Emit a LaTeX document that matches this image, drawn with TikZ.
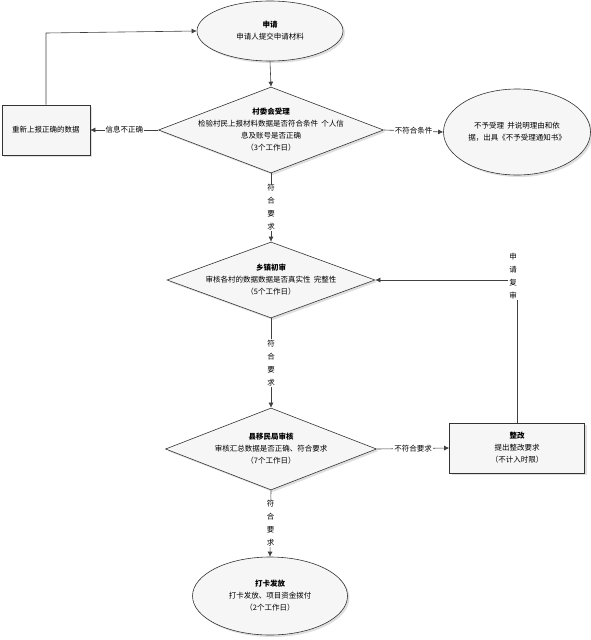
\documentclass[tikz,border=0pt]{standalone}
\usepackage{fontspec}
\newfontfamily\cjk{Noto Sans CJK SC}
\usetikzlibrary{shapes.geometric,arrows.meta,shadows}
\begin{document}
\begin{tikzpicture}[x=1pt,y=-1pt,
  font=\cjk\fontsize{7.5}{12}\selectfont,
  shp/.style={draw=black!80, fill=gray!7, line width=0.6pt, drop shadow={opacity=0.25, shadow xshift=2pt, shadow yshift=-2pt}},
  ell/.style={shp, ellipse, inner sep=0pt},
  box/.style={shp, rectangle, inner sep=0pt},
  dia/.style={shp, diamond, inner sep=0pt},
  txt/.style={align=center, inner sep=0pt},
  conn/.style={draw=black!75, line width=0.6pt, -{Latex[length=5pt,width=5pt]}},
  lbl/.style={fill=white, inner sep=1pt, align=center},
  vlbl/.style={fill=white, inner sep=1pt, align=center, font=\cjk\fontsize{7.5}{13}\selectfont}
]
\useasboundingbox (0,0) rectangle (590,640);

\node[ell, minimum width=146, minimum height=60] (start) at (270,31) {};
\node[txt] (startt) at (start.center) {\textbf{申请}\\申请人提交申请材料};

\node[box, minimum width=88, minimum height=50] (redo) at (46,130) {};
\node[txt] (redot) at (redo.center) {重新上报正确的数据};

\node[dia, minimum width=225, minimum height=86] (d1) at (271,130) {};
\node[txt] (d1t) at (d1.center) {\textbf{村委会受理}\\检验村民上报材料数据是否符合条件\ \ 个人信\\息及账号是否正确\\（3个工作日）};

\node[ell, minimum width=147, minimum height=86] (rej) at (517,132) {};
\node[txt] (rejt) at (rej.center) {不予受理\ \ 并说明理由和依\\据，出具《不予受理通知书》};

\node[dia, minimum width=208, minimum height=76] (d2) at (271,280) {};
\node[txt] (d2t) at (d2.center) {\textbf{乡镇初审}\\审核各村的数据数据是否真实性\ \ 完整性\\（5个工作日）};

\node[dia, minimum width=211, minimum height=82] (d3) at (271,449) {};
\node[txt] (d3t) at (d3.center) {\textbf{县移民局审核}\\审核汇总数据是否正确、符合要求\\（7个工作日）};

\node[box, minimum width=135, minimum height=50] (fix) at (517,448) {};
\node[txt] (fixt) at (fix.center) {\textbf{整改}\\提出整改要求\\（不计入时限）};

\node[ell, minimum width=155, minimum height=78] (end) at (270,596) {};
\node[txt] (endt) at (end.center) {\textbf{打卡发放}\\打卡发放、项目资金拨付\\（2个工作日）};

\coordinate (c1) at (46,33);
\coordinate (c2) at (517,280);

\draw[conn] (start.south) -- (d1.north);
\draw[conn] (d1.west) -- node[lbl] (l1) {信息不正确} (redo.east);
\draw[conn] (d1.east) -- node[lbl] (l2) {不符合条件} (rej.west);
\draw[conn] (redo.north) -- (c1) -- (start.west);
\draw[conn] (d1.south) -- node[vlbl] (l3) {符\\合\\要\\求} (d2.north);
\draw[conn] (d2.south) -- node[vlbl] (l4) {符\\合\\要\\求} (d3.north);
\draw[conn] (d3.east) -- node[lbl] (l5) {不符合要求} (fix.west);
\draw[conn] (d3.south) -- node[vlbl] (l6) {符\\合\\要\\求} (end.north);
\draw[conn] (fix.north) -- (c2) -- (d2.east);
\node[vlbl] (l7) at (513,276) {申\\请\\复\\审};
\end{tikzpicture}
\end{document}
